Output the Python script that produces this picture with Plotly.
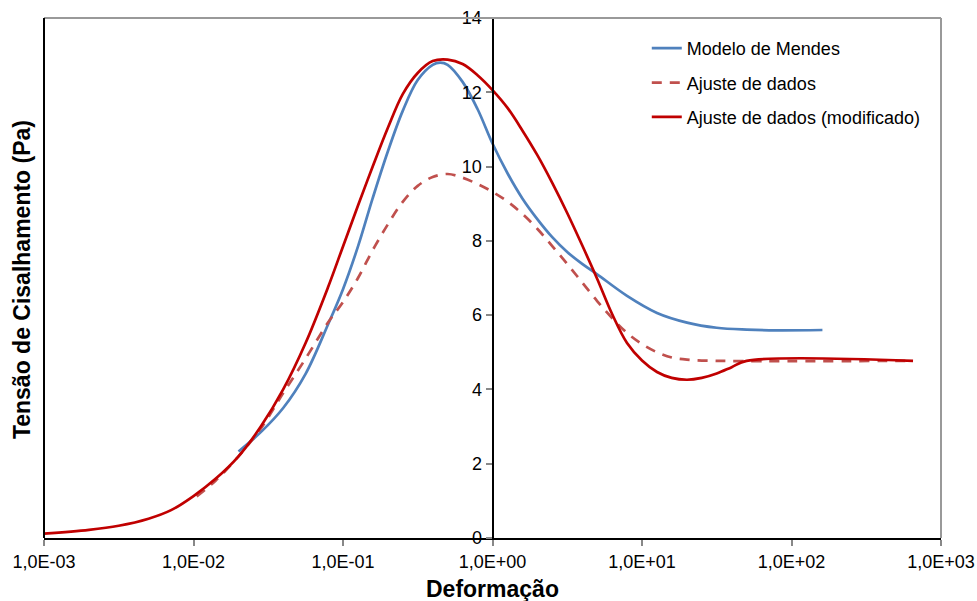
import plotly.graph_objects as go

# ---- data ----
mendes_x = [0.02, 0.0282, 0.0398, 0.0562, 0.0794, 0.1, 0.126, 0.158, 0.2, 0.251, 0.316, 0.398, 0.447,
            0.501, 0.631, 0.794, 1.0, 1.26, 1.58, 2.0, 2.51, 3.16, 3.98, 5.01, 7.94, 12.6, 20, 31.6,
            50.1, 79.4, 161]
mendes_y = [2.33, 2.85, 3.50, 4.42, 5.75, 6.70, 7.85, 9.15, 10.42, 11.50, 12.33, 12.74, 12.80,
            12.74, 12.28, 11.55, 10.62, 9.82, 9.15, 8.58, 8.10, 7.70, 7.38, 7.10, 6.52, 6.06, 5.80, 5.66,
            5.61, 5.59, 5.60]

ajuste_x = [0.0105, 0.0141, 0.02, 0.0282, 0.0398, 0.0562, 0.0794, 0.1, 0.126, 0.158, 0.2, 0.251, 0.316,
            0.398, 0.501, 0.631, 0.794, 1.0, 1.26, 1.58, 2.0, 2.51, 3.16, 3.98, 5.01, 6.31, 7.94, 10,
            12.6, 15.8, 20, 31.6, 650]
ajuste_y = [1.12, 1.55, 2.20, 2.95, 3.90, 4.83, 5.80, 6.35, 7.00, 7.75, 8.45, 9.05, 9.48,
            9.72, 9.80, 9.70, 9.53, 9.32, 9.06, 8.73, 8.32, 7.86, 7.38, 6.88, 6.38, 5.92, 5.52, 5.22,
            5.00, 4.86, 4.80, 4.77, 4.77]

mod_x = [0.001, 0.002, 0.00316, 0.005, 0.00708, 0.01, 0.0141, 0.02, 0.0282, 0.0398, 0.0562, 0.0794,
         0.1, 0.126, 0.158, 0.2, 0.251, 0.316, 0.398, 0.501, 0.631, 0.794, 1.0, 1.26, 1.58, 2.0, 2.51,
         3.16, 3.98, 5.01, 6.31, 7.94, 10, 12.6, 15.8, 20, 25.1, 31.6, 39.8, 50.1, 650]
mod_y = [0.12, 0.22, 0.33, 0.52, 0.75, 1.13, 1.60, 2.20, 3.00, 4.00, 5.25, 6.75,
         7.85, 8.95, 10.00, 11.05, 11.95, 12.52, 12.84, 12.88, 12.76, 12.46, 12.06, 11.58, 10.98, 10.30, 9.56,
         8.75, 7.88, 6.98, 6.03, 5.25, 4.78, 4.47, 4.31, 4.26, 4.31, 4.43, 4.60, 4.77, 4.77]

x_tickvals = [1e-3, 1e-2, 1e-1, 1e0, 1e1, 1e2, 1e3]
x_ticktext = ["1,0E-03", "1,0E-02", "1,0E-01", "1,0E+00", "1,0E+01", "1,0E+02", "1,0E+03"]
y_tickvals = [0, 2, 4, 6, 8, 10, 12, 14]

FONT = "Liberation Sans, Arial, sans-serif"

fig = go.Figure()
fig.add_trace(go.Scatter(x=mendes_x, y=mendes_y, mode="lines", name="Modelo de Mendes",
                         legendgroup="a", line=dict(color="#4F81BD", width=2.7, shape="spline", smoothing=1.0)))
fig.add_trace(go.Scatter(x=ajuste_x, y=ajuste_y, mode="lines", name="Ajuste de dados",
                         legendgroup="b", line=dict(color="#C0504D", width=2.7, dash="10px,8px",
                                                    shape="spline", smoothing=1.0)))
fig.add_trace(go.Scatter(x=mod_x, y=mod_y, mode="lines", name="Ajuste de dados (modificado)",
                         legendgroup="c", line=dict(color="#C00000", width=2.7, shape="spline", smoothing=1.0)))

fig.update_layout(
    width=977, height=601,
    margin=dict(l=44, r=36, t=18, b=63, autoexpand=False),
    paper_bgcolor="white", plot_bgcolor="white",
    font=dict(family=FONT, size=18, color="black"),
    showlegend=True,
    legend=dict(x=0.672, y=0.977, xanchor="left", yanchor="top", bgcolor="rgba(0,0,0,0)",
                font=dict(size=18, color="black"), traceorder="grouped", tracegroupgap=8,
                itemwidth=30),
    xaxis=dict(type="log", range=[-3, 3], tickvals=x_tickvals, ticktext=x_ticktext, automargin=False,
               showgrid=False, zeroline=False, showline=True, linecolor="black", linewidth=2,
               ticks="outside", ticklen=6, tickcolor="#888888", tickwidth=1.5,
               tickfont=dict(size=18, color="black")),
    yaxis=dict(range=[0, 14], tickvals=y_tickvals, anchor="free", position=0.5, automargin=False,
               showgrid=False, zeroline=False, showline=True, linecolor="black", linewidth=2,
               ticks="outside", ticklen=6, tickcolor="#888888", tickwidth=1.5,
               tickfont=dict(size=18, color="black")),
    shapes=[
        dict(type="line", xref="paper", yref="paper", x0=0, x1=1, y0=1, y1=1,
             line=dict(color="#999999", width=2)),
        dict(type="line", xref="paper", yref="paper", x0=1, x1=1, y0=0, y1=1,
             line=dict(color="#999999", width=2)),
        dict(type="line", xref="paper", yref="paper", x0=0, x1=0, y0=0, y1=1,
             line=dict(color="black", width=2)),
    ],
    annotations=[
        dict(text="<b>Deformação</b>", xref="paper", yref="paper", x=0.5, y=-0.098,
             xanchor="center", yanchor="middle", showarrow=False,
             font=dict(family=FONT, size=23, color="black")),
        dict(text="<b>Tensão de Cisalhamento (Pa)</b>", xref="paper", yref="paper",
             x=-0.0245, y=0.496, xanchor="center", yanchor="middle", textangle=-90,
             showarrow=False, font=dict(family=FONT, size=23, color="black")),
    ],
)

fig.write_html("out.html")
